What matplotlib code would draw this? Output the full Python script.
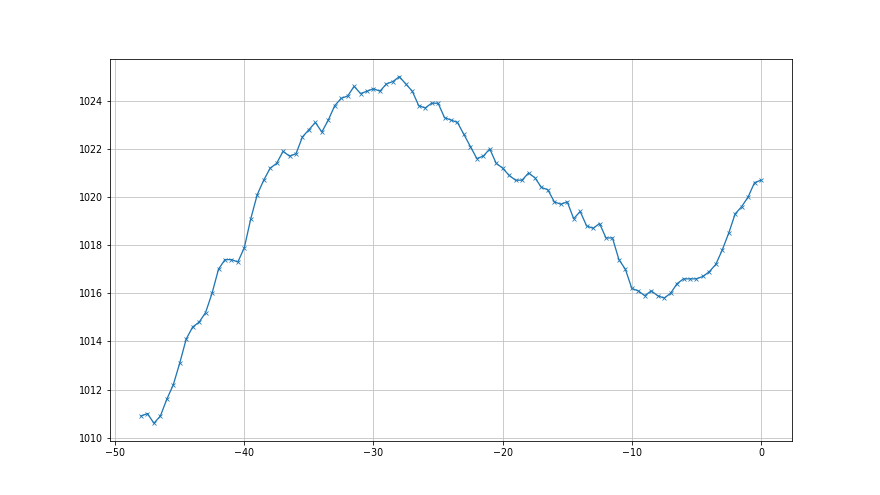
import matplotlib
matplotlib.use("Agg")
import matplotlib.pyplot as plt
import numpy as np

start = -48.0
step = 0.5
pressure = [
    1010.9, 1011.0, 1010.6, 1010.9, 1011.6, 1012.2, 1013.1, 1014.1, 1014.6, 1014.8,
    1015.2, 1016.0, 1017.0, 1017.4, 1017.4, 1017.3, 1017.9, 1019.1, 1020.1, 1020.7,
    1021.2, 1021.4, 1021.9, 1021.7, 1021.8, 1022.5, 1022.8, 1023.1, 1022.7, 1023.2,
    1023.8, 1024.1, 1024.2, 1024.6, 1024.3, 1024.4, 1024.5, 1024.4, 1024.7, 1024.8,
    1025.0, 1024.7, 1024.4, 1023.8, 1023.7, 1023.9, 1023.9, 1023.3, 1023.2, 1023.1,
    1022.6, 1022.1, 1021.6, 1021.7, 1022.0, 1021.4, 1021.2, 1020.9, 1020.7, 1020.7,
    1021.0, 1020.8, 1020.4, 1020.3, 1019.8, 1019.7, 1019.8, 1019.1, 1019.4, 1018.8,
    1018.7, 1018.9, 1018.3, 1018.3, 1017.4, 1017.0, 1016.2, 1016.1, 1015.9, 1016.1,
    1015.9, 1015.8, 1016.0, 1016.4, 1016.6, 1016.6, 1016.6, 1016.7, 1016.9, 1017.2,
    1017.8, 1018.5, 1019.3, 1019.6, 1020.0, 1020.6, 1020.7,
]
hours = [start + step * i for i in range(len(pressure))]

fig, ax = plt.subplots(figsize=(880 / 72, 495 / 72), dpi=72)
ax.plot(hours, pressure, marker="x", color="#1f77b4", linewidth=1.3,
        markersize=4.5, markeredgewidth=0.8)
ax.grid(True, color="#c0c0c0", linewidth=0.8)
ax.set_xticks([-50, -40, -30, -20, -10, 0])
ax.set_yticks([1010, 1012, 1014, 1016, 1018, 1020, 1022, 1024])
ax.tick_params(labelsize=9.5)
fig.savefig("out.png", dpi=72)
